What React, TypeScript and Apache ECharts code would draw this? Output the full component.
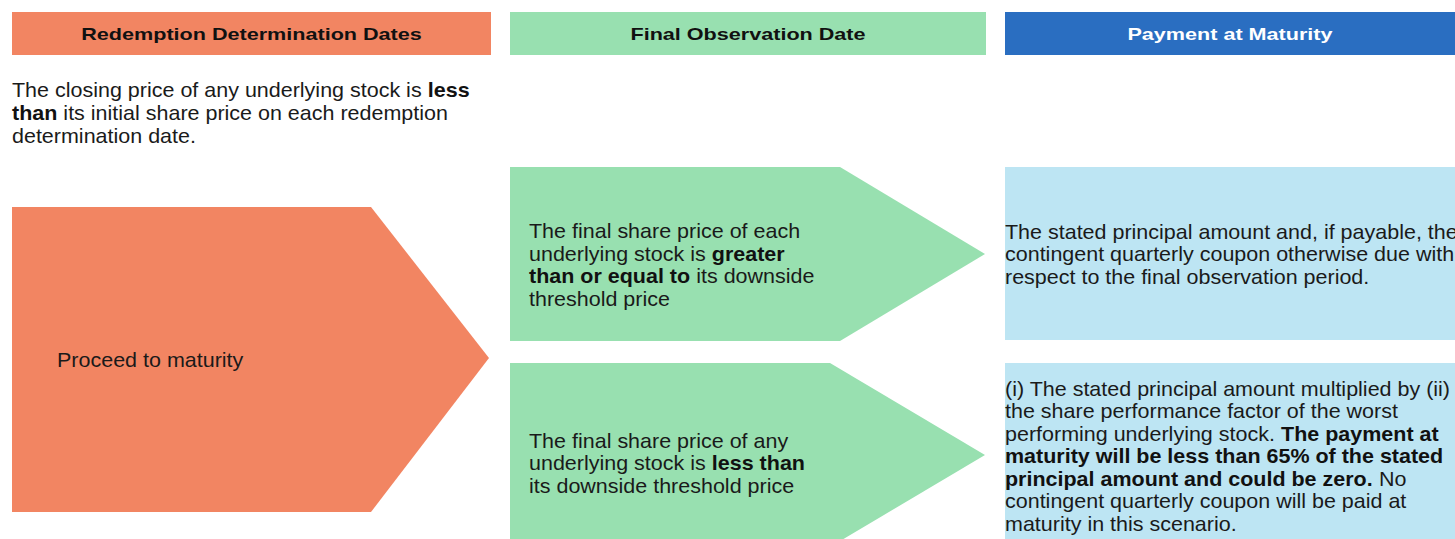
import React, { useEffect, useRef } from "react";
import * as echarts from "echarts";

const FONT = "'Liberation Sans', Arial, sans-serif";

const headers = ["Redemption Determination Dates", "Final Observation Date", "Payment at Maturity"];
const headerColors = ["#F28562", "#98E0B0", "#2A6EC1"];
const headerTextColors = ["#111111", "#111111", "#FFFFFF"];

const introText = "{n|The closing price of any underlying stock is }{b|less}\n{b|than}{n| its initial share price on each redemption}\n{n|determination date.}";
const proceedText = "Proceed to maturity";
const greenTexts = [
  "{n|The final share price of each}\n{n|underlying stock is }{b|greater}\n{b|than or equal to}{n| its downside}\n{n|threshold price}",
  "{n|The final share price of any}\n{n|underlying stock is }{b|less than}\n{n|its downside threshold price}",
];
const blueTexts = [
  "{n|The stated principal amount and, if payable, the}\n{n|contingent quarterly coupon otherwise due with}\n{n|respect to the final observation period.}",
  "{n|(i) The stated principal amount multiplied by (ii)}\n{n|the share performance factor of the worst}\n{n|performing underlying stock. }{b|The payment at}\n{b|maturity will be less than 65% of the stated}\n{b|principal amount and could be zero.}{n| No}\n{n|contingent quarterly coupon will be paid at}\n{n|maturity in this scenario.}",
];

const BODY_SIZE = 20;
const BODY_SX = 1.075;
const HEAD_SIZE = 17;
const HEAD_SX = 1.27;

const rich = (lh: number) => ({
  n: { fontSize: BODY_SIZE, fontFamily: FONT, lineHeight: lh, fill: "#1a1a1a", color: "#1a1a1a" },
  b: { fontSize: BODY_SIZE, fontFamily: FONT, fontWeight: "bold", lineHeight: lh, fill: "#111111", color: "#111111" },
});

export default function App() {
  const ref = useRef<HTMLDivElement>(null);
  useEffect(() => {
    document.body.style.margin = "0";
    const chart = echarts.init(ref.current!, null, { renderer: "svg" });
    const headerBoxes = [
      [12, 491],
      [510, 986],
      [1005, 1455],
    ];
    const elements: any[] = [];
    headers.forEach((h, i) => {
      const [x0, x1] = headerBoxes[i];
      elements.push({
        type: "rect",
        shape: { x: x0, y: 12, width: x1 - x0, height: 43 },
        style: { fill: headerColors[i] },
      });
      elements.push({
        type: "text",
        x: (x0 + x1) / 2,
        y: 33.5,
        scaleX: HEAD_SX,
        style: {
          text: h,
          fill: headerTextColors[i],
          font: `bold ${HEAD_SIZE}px ${FONT}`,
          align: "center",
          verticalAlign: "middle",
        },
      });
    });
    const textEl = (x: number, y: number, text: string) => ({
      type: "text",
      x,
      y,
      scaleX: BODY_SX,
      z: 10,
      style: { text, rich: rich(22.5), align: "left", verticalAlign: "middle" },
    });
    elements.push({
      type: "text",
      x: 12,
      y: 78,
      scaleX: BODY_SX,
      z: 10,
      style: { text: introText, rich: rich(23), align: "left", verticalAlign: "top" },
    });
    // orange pentagon
    elements.push({
      type: "polygon",
      shape: { points: [[12, 207], [371, 207], [489, 358], [371, 512], [12, 512]] },
      style: { fill: "#F28562" },
    });
    elements.push({
      type: "text",
      x: 57,
      y: 360,
      scaleX: BODY_SX,
      z: 10,
      style: { text: proceedText, fill: "#1a1a1a", font: `${BODY_SIZE}px ${FONT}`, align: "left", verticalAlign: "middle" },
    });
    // green pentagons
    elements.push({
      type: "polygon",
      shape: { points: [[510, 167], [840, 167], [985, 254], [840, 341], [510, 341]] },
      style: { fill: "#98E0B0" },
    });
    elements.push({
      type: "polygon",
      shape: { points: [[510, 363], [830, 363], [985, 455], [830, 547], [510, 547]] },
      style: { fill: "#98E0B0" },
    });
    elements.push(textEl(529, 265, greenTexts[0]));
    elements.push(textEl(529, 463, greenTexts[1]));
    // blue boxes
    elements.push({
      type: "rect",
      shape: { x: 1005, y: 167, width: 460, height: 173 },
      style: { fill: "#BDE5F3" },
    });
    elements.push({
      type: "rect",
      shape: { x: 1005, y: 363, width: 460, height: 190 },
      style: { fill: "#BDE5F3" },
    });
    elements.push(textEl(1005, 254, blueTexts[0]));
    elements.push(textEl(1005, 456, blueTexts[1]));
    chart.setOption({
      animation: false,
      backgroundColor: "#ffffff",
      graphic: { elements },
    });
    return () => chart.dispose();
  }, []);
  return <div ref={ref} style={{ width: 1455, height: 539, overflow: "hidden" }} />;
}
